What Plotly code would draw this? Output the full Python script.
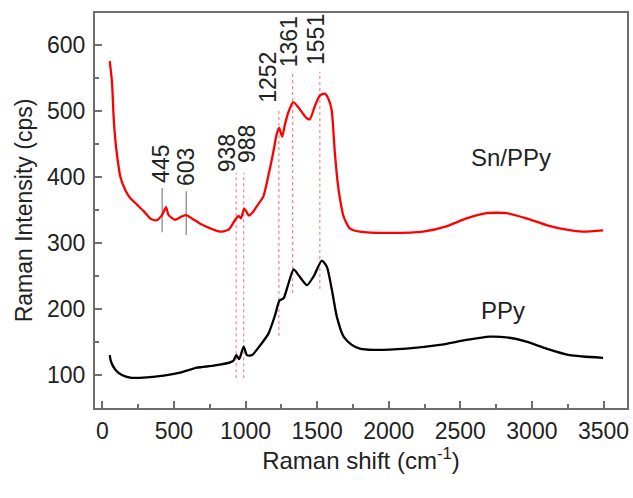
import plotly.graph_objects as go

# Sn/PPy spectrum (red)
snppy_x = [52, 68, 79, 91, 107, 126, 160, 195, 242, 289, 335, 377, 417, 445, 463, 509, 556, 586, 626, 684,
           754, 823, 882, 928, 952, 968, 991, 1021, 1031, 1056, 1077, 1124, 1158, 1193, 1217, 1235, 1256,
           1275, 1298, 1333, 1380, 1426, 1449, 1484, 1519, 1554, 1577, 1601, 1624, 1647, 1665, 1682, 1705,
           1728, 1798, 2008, 2240, 2403, 2543, 2683, 2822, 2962, 3101, 3241, 3357, 3497]
snppy_y = [575, 542, 491, 456, 426, 400, 380, 368, 358, 348, 337, 334, 342, 354, 342, 335, 340, 342, 337, 329,
           322, 317, 320, 335, 341, 337, 352, 342, 342, 348, 355, 370, 400, 436, 464, 474, 461,
           479, 497, 513, 502, 489, 487, 507, 523, 526, 519, 502, 436, 385, 360, 342, 330,
           322, 317, 315, 317, 325, 337, 345, 345, 337, 327, 320, 317, 319]

# PPy spectrum (black)
ppy_x = [52, 61, 91, 137, 195, 312, 428, 544, 661, 777, 893, 917, 935, 956, 987, 1010, 1045, 1103, 1161, 1207,
         1238, 1266, 1294, 1336, 1371, 1429, 1475, 1533, 1568, 1603, 1638, 1685, 1742, 1798, 1891, 2124,
         2357, 2543, 2706, 2822, 2962, 3101, 3264, 3357, 3497]
ppy_y = [130, 120, 108, 100, 96, 96.5, 99, 103.5, 111, 114, 119, 122, 130, 124, 143, 130, 130, 145, 163, 191,
         213, 216, 234, 260, 251, 236, 249, 273, 264, 229, 188, 158, 145.5, 140, 138, 140,
         145.5, 153, 158, 157, 150.5, 140, 130, 128, 126]

# Peak markers
peak_labels = ["445", "603", "938", "988", "1252", "1361", "1551"]
peak_line_x = [418, 586, 935, 987, 1233, 1329, 1519]
peak_line_top = [383, 378, 406, 406, 501, 559, 559]
peak_line_bottom = [316, 312, 95, 95, 159, 224, 230]
peak_solid = [True, True, False, False, False, False, False]
peak_text_x = [405, 586, 873, 1014, 1158, 1303, 1496]
peak_text_y = [420, 415, 436, 449, 550, 605, 608]

# Sample labels
sample_names = ["Sn/PPy", "PPy"]
sample_x = [2853, 2800]
sample_y = [430, 198]

FONT = "Liberation Sans, Arial, sans-serif"
TXT = "#222222"
AX = "#6e6e6e"

fig = go.Figure()

# peak lines
for solid, color, dash in [(True, "#8c8c8c", "solid"), (False, "#ff8a8a", "dot")]:
    xs, ys = [], []
    for lx, top, bot, s in zip(peak_line_x, peak_line_top, peak_line_bottom, peak_solid):
        if s == solid:
            xs += [lx, lx, None]
            ys += [bot, top, None]
    fig.add_trace(go.Scatter(x=xs, y=ys, mode="lines", line=dict(color=color, width=1.3, dash=dash),
                             hoverinfo="skip", showlegend=False))

fig.add_trace(go.Scatter(x=snppy_x, y=snppy_y, mode="lines", name="Sn/PPy",
                         line=dict(color="#ff0000", width=2.3, shape="spline", smoothing=0.6),
                         showlegend=False))
fig.add_trace(go.Scatter(x=ppy_x, y=ppy_y, mode="lines", name="PPy",
                         line=dict(color="#000000", width=2.3, shape="spline", smoothing=0.6),
                         showlegend=False))

for t, x, y in zip(peak_labels, peak_text_x, peak_text_y):
    fig.add_annotation(x=x, y=y, text=t, textangle=-90, showarrow=False,
                       xanchor="center", yanchor="middle",
                       font=dict(family=FONT, size=23, color=TXT))

for t, x, y in zip(sample_names, sample_x, sample_y):
    fig.add_annotation(x=x, y=y, text=t, showarrow=False, xanchor="center", yanchor="middle",
                       font=dict(family=FONT, size=24, color=TXT))

axis_common = dict(showgrid=False, zeroline=False, showline=True, linecolor=AX, linewidth=2,
                   mirror=True, ticks="inside", tickcolor=AX, tickwidth=1.5, automargin=False,
                   tickfont=dict(family=FONT, size=23, color=TXT))

fig.update_xaxes(range=[-51, 3664], tick0=0, dtick=500, ticklen=7,
                 minor=dict(dtick=250, tick0=0, ticks="inside", ticklen=4, tickcolor=AX, tickwidth=1.5),
                 title=dict(text="Raman shift (cm<sup>-1</sup>)", font=dict(family=FONT, size=24, color=TXT),
                            standoff=8),
                 ticklabelstandoff=1, **axis_common)
fig.update_yaxes(range=[50, 648], tick0=0, dtick=100, ticklen=7,
                 minor=dict(dtick=50, tick0=0, ticks="inside", ticklen=4, tickcolor=AX, tickwidth=1.5),
                 title=dict(text="Raman Intensity (cps)", font=dict(family=FONT, size=23, color=TXT),
                            standoff=8),
                 ticklabelstandoff=3, **axis_common)

fig.update_layout(width=633, height=498, margin=dict(l=95, r=6, t=13, b=90),
                  plot_bgcolor="white", paper_bgcolor="white", showlegend=False)

fig.write_html("out.html", config={"displayModeBar": False},
               post_script="document.body.style.margin='0';")
